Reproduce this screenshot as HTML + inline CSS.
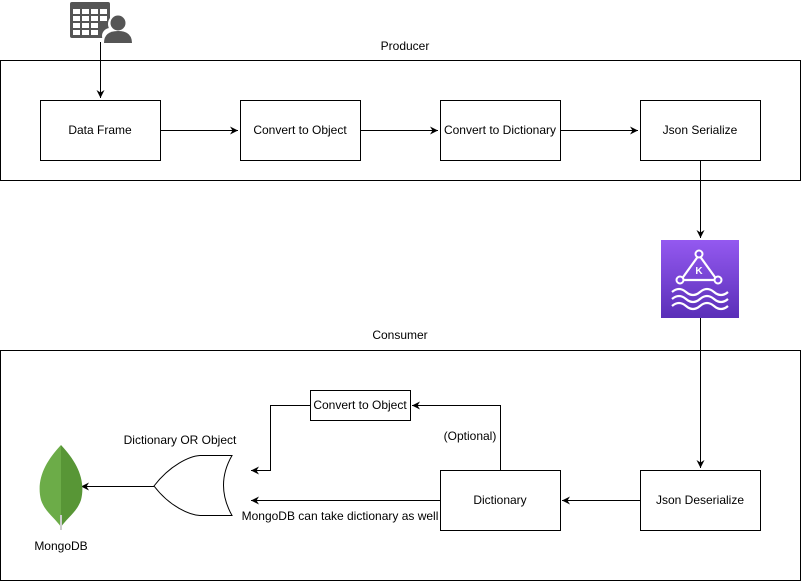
<!DOCTYPE html>
<html><head><style>body{margin:0;background:#fff}svg{display:block}text{font-family:"Liberation Sans",sans-serif;font-size:12px;fill:#000}</style></head><body>
<svg width="801" height="581" viewBox="0 0 801 581" xmlns="http://www.w3.org/2000/svg">
<defs><marker id="a" markerWidth="10" markerHeight="10" refX="8" refY="5" orient="auto" markerUnits="userSpaceOnUse"><path d="M0,1 L8,5 L0,9 L2.5,5 Z" fill="#000"/></marker></defs>
<g fill="none" stroke="#000" stroke-width="1">
<rect x="0.5" y="60.5" width="800" height="120"/>
<rect x="0.5" y="350.5" width="800" height="230"/>
<rect x="40.5" y="100.5" width="120" height="60"/>
<rect x="240.5" y="100.5" width="120" height="60"/>
<rect x="440.5" y="100.5" width="120" height="60"/>
<rect x="640.5" y="100.5" width="120" height="60"/>
<rect x="640.5" y="470.5" width="120" height="60"/>
<rect x="440.5" y="470.5" width="120" height="60"/>
<rect x="310.5" y="390.5" width="100" height="30"/>
<path d="M100.5,42 V98" marker-end="url(#a)"/>
<path d="M160,130.5 H238" marker-end="url(#a)"/>
<path d="M360,130.5 H438" marker-end="url(#a)"/>
<path d="M560,130.5 H638" marker-end="url(#a)"/>
<path d="M700.5,160 V238" marker-end="url(#a)"/>
<path d="M700.5,318 V468" marker-end="url(#a)"/>
<path d="M640,500.5 H562" marker-end="url(#a)"/>
<path d="M500.5,470 V405.5 H412" marker-end="url(#a)"/>
<path d="M310,405.5 H270.5 V470.5 H251" marker-end="url(#a)"/>
<path d="M440,500.5 H251" marker-end="url(#a)"/>
<path d="M154,486.5 H81" marker-end="url(#a)"/>
<path d="M155,455.5 H232 Q215,485 232,515.5 H155 Q130,486 154,486 Q170,460 155,455.5Z" stroke="none"/>
<path d="M155,455.5 H232 Q215,485 232,515.5 H155 Q142,515 154,486 Q142,456 155,455.5" stroke="none"/>
<path d="M154,486 C170,465 190,456 200,455.5 H232 Q215,485 232,515.5 H200 C190,515 170,507 154,486Z"/>
</g>
<!-- table/user icon -->
<g fill="#555">
<rect x="70" y="2" width="40" height="36" rx="2"/>
</g>
<g fill="#fff">
<rect x="73" y="9" width="7" height="5"/><rect x="82" y="9" width="7" height="5"/><rect x="91" y="9" width="7" height="5"/><rect x="100" y="9" width="7" height="5"/>
<rect x="73" y="16" width="7" height="5"/><rect x="82" y="16" width="7" height="5"/><rect x="91" y="16" width="7" height="5"/><rect x="100" y="16" width="7" height="5"/>
<rect x="73" y="23" width="7" height="5"/><rect x="82" y="23" width="7" height="5"/><rect x="91" y="23" width="7" height="5"/>
<rect x="73" y="30" width="7" height="5"/><rect x="82" y="30" width="7" height="5"/><rect x="91" y="30" width="7" height="5"/>
<circle cx="118" cy="24" r="10"/><rect x="102" y="28" width="32" height="16" rx="8"/>
</g>
<g fill="#555"><circle cx="118" cy="23" r="7.5"/><path d="M104,43 Q104,31 118,31 Q132,31 132,43Z"/></g>
<!-- kafka icon -->
<defs><linearGradient id="k" x1="0" y1="0" x2="0" y2="1"><stop offset="0" stop-color="#9459f0"/><stop offset="1" stop-color="#5a2fb8"/></linearGradient></defs>
<rect x="661" y="240" width="78" height="78" fill="url(#k)"/>
<g fill="none" stroke="#fff" stroke-width="2.2">
<path d="M699,255 L681,280 H717 Z"/>
<path d="M672,292 q7,-6 14,0 t14,0 t14,0 t14,0"/>
<path d="M672,299 q7,-6 14,0 t14,0 t14,0 t14,0"/>
<path d="M672,306 q7,-6 14,0 t14,0 t14,0 t14,0"/>
</g>
<g fill="#7b45e0" stroke="#fff" stroke-width="2"><circle cx="699" cy="254" r="3.5"/><circle cx="680" cy="280" r="3.5"/><circle cx="718" cy="280" r="3.5"/></g>
<text x="699" y="274" text-anchor="middle" style="fill:#fff;font-weight:bold;font-size:10px">K</text>
<!-- leaf -->
<path d="M61,445 C45,462 36,480 41,500 C45,512 55,518 61,527 Z" fill="#6cac48"/>
<path d="M61,445 C77,462 86,480 81,500 C77,512 67,518 61,527 Z" fill="#589636"/>
<path d="M61,515 V530" stroke="#ccc" stroke-width="2"/>
<text x="405" y="50" text-anchor="middle">Producer</text>
<text x="400" y="339" text-anchor="middle">Consumer</text>
<text x="100" y="134" text-anchor="middle">Data Frame</text>
<text x="300" y="134" text-anchor="middle">Convert to Object</text>
<text x="500" y="134" text-anchor="middle">Convert to Dictionary</text>
<text x="700" y="134" text-anchor="middle">Json Serialize</text>
<text x="700" y="504" text-anchor="middle">Json Deserialize</text>
<text x="500" y="504" text-anchor="middle">Dictionary</text>
<text x="360" y="409" text-anchor="middle">Convert to Object</text>
<text x="470" y="440" text-anchor="middle">(Optional)</text>
<text x="180" y="444" text-anchor="middle">Dictionary OR Object</text>
<text x="340" y="520" text-anchor="middle">MongoDB can take dictionary as well</text>
<text x="61" y="550" text-anchor="middle">MongoDB</text>
</svg>
</body></html>
